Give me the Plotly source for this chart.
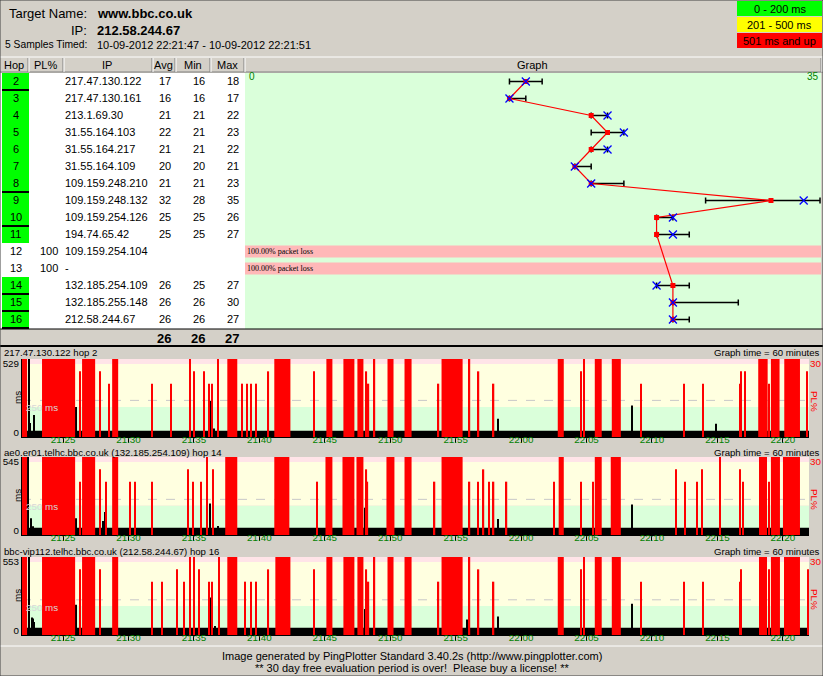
import plotly.graph_objects as go

# ------------------------------------------------------------------ data
target_name = "www.bbc.co.uk"
target_ip = "212.58.244.67"
samples_label = "5 Samples Timed:"
samples_text = "10-09-2012 22:21:47 - 10-09-2012 22:21:51"
legend_labels = ["0 - 200 ms", "201 - 500 ms", "501 ms and up"]
legend_colors = ["#00ff00", "#ffff00", "#ff0000"]

col_headers = ["Hop", "PL%", "IP", "Avg", "Min", "Max", "Graph"]
hops = [2, 3, 4, 5, 6, 7, 8, 9, 10, 11, 12, 13, 14, 15, 16]
pl = [None, None, None, None, None, None, None, None, None, None, 100, 100, None, None, None]
ips = ["217.47.130.122", "217.47.130.161", "213.1.69.30", "31.55.164.103", "31.55.164.217",
       "31.55.164.109", "109.159.248.210", "109.159.248.132", "109.159.254.126", "194.74.65.42",
       "109.159.254.104", "-", "132.185.254.109", "132.185.255.148", "212.58.244.67"]
avg = [17, 16, 21, 22, 21, 20, 21, 32, 25, 25, None, None, 26, 26, 26]
mn = [16, 16, 21, 21, 21, 20, 21, 28, 25, 25, None, None, 25, 26, 26]
mx = [18, 17, 22, 23, 22, 21, 23, 35, 26, 27, None, None, 27, 30, 27]
cur = [17, 16, 22, 23, 22, 20, 21, 34, 26, 26, None, None, 25, 26, 26]
summary = [26, 26, 27]
boundary_hops = [2, 8, 10, 14, 15, 16]
graph_scale_max = 35

# time graphs (time = minutes past 21:00)
tick_vals = [25, 30, 35, 40, 45, 50, 55, 60, 65, 70, 75, 80]
tick_text = ["21:25", "21:30", "21:35", "21:40", "21:45", "21:50", "21:55",
             "22:00", "22:05", "22:10", "22:15", "22:20"]
window_start, window_end = 21.86, 82.0

g_titles = ["217.47.130.122 hop 2",
            "ae0.er01.telhc.bbc.co.uk (132.185.254.109) hop 14",
            "bbc-vip112.telhc.bbc.co.uk (212.58.244.67) hop 16"]
g_max_ms = [529, 545, 553]
g_base_ms = [17, 26, 26]

g1_block_start = [21.86, 23.39, 26.45, 28.75, 37.55, 41.14, 45.12, 46.42, 47.49, 49.79, 51.09, 53.92, 62.80, 65.63, 66.93, 78.12, 79.09, 80.11]
g1_block_end = [22.25, 25.92, 27.45, 29.21, 38.31, 42.37, 45.58, 47.26, 47.95, 50.25, 51.63, 55.53, 63.26, 66.16, 67.62, 78.84, 79.75, 81.31]
g1_line_t = [26.30, 27.83, 28.52, 31.81, 33.26, 34.72, 35.02, 35.79, 36.17, 36.40, 36.86, 38.70, 39.08, 39.38, 39.77, 40.69,
             44.20, 48.18, 48.34, 48.80, 53.69, 56.06, 56.75, 57.90, 64.56, 64.79, 69.15, 72.44, 73.89, 76.72, 76.80, 77.10, 78.94, 81.85]
g1_line_pl = [25, 25, 20, 20, 20, 100, 25, 25, 20, 20, 100, 20, 20, 20, 20, 25,
              25, 25, 20, 100, 20, 100, 25, 20, 25, 100, 20, 20, 20, 20, 25, 25, 20, 25]
g1_spike_t = [22.40, 22.48, 22.78, 25.99, 36.25, 36.55, 58.21, 68.46, 74.88, 78.94]
g1_spike_ms = [600, 77, 138, 200, 245, 35, 110, 210, 70, 153]

g2_block_start = [21.86, 23.39, 26.45, 28.75, 37.39, 41.14, 45.05, 46.35, 47.42, 49.71, 51.09, 53.92, 62.87, 65.63, 66.85, 78.18, 79.09, 80.01]
g2_block_end = [22.25, 25.92, 27.45, 29.21, 38.31, 42.29, 45.58, 47.26, 47.95, 50.32, 51.63, 55.53, 63.26, 66.16, 67.62, 78.79, 79.78, 81.31]
g2_line_t = [26.30, 27.83, 28.29, 30.13, 30.51, 31.81, 34.56, 34.95, 35.56, 36.02, 36.48, 44.43, 48.18, 48.26, 53.39, 56.06,
             56.68, 57.13, 57.52, 57.90, 58.89, 62.49, 64.56, 65.47, 71.83, 72.51, 73.43, 73.81, 75.19, 76.72, 76.95, 78.94]
g2_line_pl = [20, 25, 20, 20, 20, 20, 25, 20, 20, 100, 25, 20, 25, 20, 20, 20,
              20, 25, 20, 20, 20, 20, 20, 20, 25, 20, 20, 25, 100, 25, 20, 20]
g2_spike_t = [22.32, 22.55, 22.70, 25.99, 28.06, 28.21, 36.25, 36.86, 48.11, 58.21, 68.46, 78.94]
g2_spike_ms = [600, 100, 37, 100, 78, 150, 217, 40, 184, 94, 209, 209]

g3_block_start = [21.86, 23.39, 26.45, 28.75, 37.55, 41.22, 45.12, 46.42, 47.49, 49.79, 51.09, 53.92, 62.80, 65.63, 66.93, 78.18, 79.09, 80.09]
g3_block_end = [22.25, 25.92, 27.45, 29.21, 38.31, 42.37, 45.58, 47.26, 47.95, 50.25, 51.63, 55.53, 63.26, 66.16, 67.62, 78.79, 79.78, 81.31]
g3_line_t = [26.30, 27.83, 31.81, 32.57, 33.72, 34.26, 34.72, 35.02, 35.41, 36.17, 36.40, 36.94, 38.93, 39.38, 39.77, 40.69,
             44.20, 48.18, 48.34, 48.80, 53.69, 56.06, 56.75, 57.90, 64.56, 64.79, 69.15, 72.44, 73.89, 76.72, 76.80, 78.94, 81.92]
g3_line_pl = [25, 25, 20, 20, 25, 20, 100, 100, 25, 20, 20, 100, 20, 20, 20, 25,
              25, 25, 20, 100, 20, 100, 25, 20, 25, 100, 20, 20, 20, 20, 25, 25, 25]
g3_spike_t = [22.40, 22.63, 22.70, 22.78, 25.99, 36.25, 36.63, 48.11, 55.91, 58.21, 68.46, 78.94]
g3_spike_ms = [600, 109, 100, 72, 210, 269, 40, 176, 92, 117, 218, 30]

footer1 = "Image generated by PingPlotter Standard 3.40.2s (http://www.pingplotter.com)"
footer2 = "** 30 day free evaluation period is over!  Please buy a license! **"

# ------------------------------------------------------------------ layout helpers
W, H = 823, 676
def px(x): return x / W
def py(y): return 1 - y / H

FONT = "Liberation Sans"
BG = "#d4d0c8"
GREEN_BG = "#daffda"
YELLOW_BG = "#ffffe0"
PINK_BG = "#ffe4e8"
TICK_GREEN = "#008000"
SMALL = 9.3

shapes, anns = [], []

def rect(x0, y0, x1, y1, fill, layer="below", yref="paper"):
    if yref == "paper":
        y0, y1 = py(y1), py(y0)
    shapes.append(dict(type="rect", xref="paper", yref=yref, x0=px(x0), x1=px(x1), y0=y0, y1=y1,
                       fillcolor=fill, line=dict(width=0), layer=layer))

def hline(x0, x1, y, color, w=1, layer="above", yref="paper"):
    yy = py(y) if yref == "paper" else y
    shapes.append(dict(type="line", xref="paper", yref=yref, x0=px(x0), x1=px(x1), y0=yy, y1=yy,
                       line=dict(color=color, width=w), layer=layer))

def vline(x, y0, y1, color, w=1, layer="above"):
    shapes.append(dict(type="line", xref="paper", yref="paper", x0=px(x), x1=px(x), y0=py(y0), y1=py(y1),
                       line=dict(color=color, width=w), layer=layer))

def text(x, y, s, size=11, color="black", anchor="left", yref="paper", angle=0, family=FONT, xref="paper"):
    anns.append(dict(xref=xref, yref=yref, x=px(x) if xref == "paper" else x,
                     y=py(y) if yref == "paper" else y, text=s, showarrow=False,
                     xanchor=anchor, yanchor="middle", textangle=angle,
                     font=dict(size=size, color=color, family=family), borderpad=0))

fig = go.Figure()

# ------------------------------------------------------------------ header
text(88, 13, "Target Name:", 13, anchor="right")
text(96, 13, f"<b>{target_name}</b>", 13)
text(88, 30, "IP:", 13, anchor="right")
text(96, 30, f"<b>{target_ip}</b>", 13)
text(88, 45, samples_label, 10.3, anchor="right")
text(96, 45, samples_text, 11)
for i, (lab, col) in enumerate(zip(legend_labels, legend_colors)):
    top = 1 + i * 16
    rect(737, top, 822, top + 15, col)
    text(779.5, top + 8, lab, 11, anchor="center")

# ------------------------------------------------------------------ table header
rect(0, 57, 823, 72, BG)
hline(0, 823, 57, "#ffffff")
hline(0, 823, 72, "#808080")
col_bounds = [0, 28, 63, 152, 175, 210, 244, 821]
for b in col_bounds[1:]:
    vline(b, 58, 72, "#808080")
    vline(b + 1, 58, 72, "#ffffff")
for lab, a, b in zip(col_headers, col_bounds[:-1], col_bounds[1:]):
    text((a + b) / 2, 65, lab, 11, anchor="center")

# ------------------------------------------------------------------ table body & hop graph
rect(0, 73, 245, 329, "#ffffff")
rect(245, 73, 821, 329, GREEN_BG)
for h, p, ip, a, lo, hi in zip(hops, pl, ips, avg, mn, mx):
    if a is not None:
        rect(2, h - 0.5, 29, h + 0.5, "#00ff00", yref="y")
    else:
        shapes.append(dict(type="rect", xref="paper", yref="y", x0=px(245), x1=px(821),
                           y0=h - 0.35, y1=h + 0.35, fillcolor="#ffb8b8", line=dict(width=0), layer="below"))
        text(246, h, f"{p:.2f}% packet loss", 8, yref="y", family="Liberation Serif")
    text(15.5, h, str(h), 11, anchor="center", yref="y")
    if p is not None:
        text(59, h, str(p), 11, anchor="right", yref="y")
    text(64, h, ip, 11, yref="y")
    if a is not None:
        text(172, h, str(a), 11, anchor="right", yref="y")
        text(206, h, str(lo), 11, anchor="right", yref="y")
        text(240, h, str(hi), 11, anchor="right", yref="y")
for h in boundary_hops:
    hline(2, 29, h + 0.5, "black", 2, yref="y")
hline(0, 823, 329, "black", 1)
rect(0, 330, 823, 345, BG)
for v, x in zip(summary, [172, 206, 240]):
    text(x, 338, f"<b>{v}</b>", 13, anchor="right")
hline(0, 823, 346, "black", 2)

valid = [i for i, a in enumerate(avg) if a is not None]
fig.add_trace(go.Scatter(
    x=[avg[i] for i in valid], y=[hops[i] for i in valid], mode="markers",
    marker=dict(size=1, opacity=0),
    error_x=dict(type="data", symmetric=False, array=[mx[i] - avg[i] for i in valid],
                 arrayminus=[avg[i] - mn[i] for i in valid], color="black", thickness=1.5, width=3),
    xaxis="x", yaxis="y", hoverinfo="skip", showlegend=False))
fig.add_trace(go.Scatter(
    x=avg, y=hops, mode="lines+markers", connectgaps=True,
    line=dict(color="#ff0000", width=1.2),
    marker=dict(symbol="square", size=5, color="#ff0000"),
    xaxis="x", yaxis="y", showlegend=False))
fig.add_trace(go.Scatter(
    x=cur, y=hops, mode="markers",
    marker=dict(symbol="x-thin", size=8, line=dict(width=1.3, color="#0000ff")),
    xaxis="x", yaxis="y", showlegend=False))
text(0, 77, "0", 10, color=TICK_GREEN, anchor="left", xref="x")
anns[-1]["x"] = 0
text(0, 77, str(graph_scale_max), 10, color=TICK_GREEN, anchor="right", xref="x")
anns[-1]["x"] = graph_scale_max

layout_axes = dict(
    xaxis=dict(domain=[px(245), px(821)], range=[-0.18, 35.06], visible=False, fixedrange=True),
    yaxis=dict(domain=[py(329), py(73)], range=[16.5588, 1.5], visible=False, fixedrange=True),
)

# ------------------------------------------------------------------ time graphs
G_TOP = [359, 457, 557]
G_BOT = [437, 535, 635]
G_TITLE_Y = [352, 452, 551]
X0, X1 = 22, 809
blocks_s = [g1_block_start, g2_block_start, g3_block_start]
blocks_e = [g1_block_end, g2_block_end, g3_block_end]
lines_t = [g1_line_t, g2_line_t, g3_line_t]
lines_pl = [g1_line_pl, g2_line_pl, g3_line_pl]
spikes_t = [g1_spike_t, g2_spike_t, g3_spike_t]
spikes_ms = [g1_spike_ms, g2_spike_ms, g3_spike_ms]

for k in range(3):
    top, bot = G_TOP[k], G_BOT[k]
    hpx = bot - top
    mxv = g_max_ms[k]
    per_px = mxv / (hpx - 9)
    ymin, ymax = -4 * per_px, mxv + 5 * per_px
    plmin = -30 * 4 / (hpx - 4)
    xa, ya, ya2 = f"x{k + 2}", f"y{2 * k + 2}", f"y{2 * k + 3}"
    xkey, ykey, y2key = f"xaxis{k + 2}", f"yaxis{2 * k + 2}", f"yaxis{2 * k + 3}"
    layout_axes[xkey] = dict(domain=[px(X0), px(X1)], range=[window_start, 82.0], anchor=ya,
                             tickvals=tick_vals, ticktext=tick_text,
                             tickfont=dict(color=TICK_GREEN, size=SMALL + 0.5, family=FONT),
                             ticks="outside", ticklen=5, tickcolor="black", ticklabelstandoff=-12,
                             showline=True, linecolor="black", linewidth=1,
                             showgrid=False, zeroline=False, fixedrange=True, automargin=False)
    layout_axes[ykey] = dict(domain=[py(bot), py(top)], range=[ymin, ymax], anchor=xa,
                             tickvals=[0, mxv], ticktext=["0", str(mxv)], ticks="",
                             tickfont=dict(size=SMALL + 0.5, family=FONT, color="black"),
                             showline=True, linecolor="black", linewidth=1,
                             showgrid=False, zeroline=False, fixedrange=True, automargin=False)
    layout_axes[y2key] = dict(overlaying=ya, side="right", anchor=xa, range=[plmin, 30],
                              tickvals=[30], ticktext=["30"], ticks="", ticklabelshift=5,
                              tickfont=dict(size=SMALL + 0.5, family=FONT, color="#ff0000"),
                              showgrid=False, zeroline=False, showline=False, fixedrange=True,
                              automargin=False)
    # background bands
    for y0, y1, c in [(ymin, 200, GREEN_BG), (200, mxv, YELLOW_BG), (mxv, ymax, PINK_BG)]:
        shapes.append(dict(type="rect", xref=f"{xa} domain", yref=ya, x0=0, x1=1, y0=y0, y1=y1,
                           fillcolor=c, line=dict(width=0), layer="below"))
    shapes.append(dict(type="line", xref=f"{xa} domain", yref=ya, x0=0, x1=1, y0=250, y1=250,
                       line=dict(color="#c8c8c8", width=1, dash="dash"), layer="below"))
    anns.append(dict(xref="paper", yref=ya, x=px(24), y=250, yanchor="top", xanchor="left",
                     text="250 ms", showarrow=False, borderpad=1,
                     font=dict(size=SMALL + 0.5, family=FONT, color="#d8d8d8")))
    # latency bars
    fig.add_trace(go.Bar(x=[(window_start + window_end) / 2] + spikes_t[k],
                         width=[window_end - window_start] + [0.09] * len(spikes_t[k]),
                         y=[g_base_ms[k] - ymin] + [v - ymin for v in spikes_ms[k]], base=ymin,
                         marker=dict(color="black", line=dict(width=0)),
                         xaxis=xa, yaxis=ya, showlegend=False, hoverinfo="skip"))
    # packet-loss bars
    bx = [(s + e) / 2 for s, e in zip(blocks_s[k], blocks_e[k])] + lines_t[k]
    bw = [e - s for s, e in zip(blocks_s[k], blocks_e[k])] + [0.1] * len(lines_t[k])
    bv = [100] * len(blocks_s[k]) + lines_pl[k]
    fig.add_trace(go.Bar(x=bx, width=bw, y=[min(v, 40) - plmin for v in bv], base=plmin,
                         marker=dict(color="#ff0000", line=dict(width=0)),
                         xaxis=xa, yaxis=ya2, showlegend=False, hoverinfo="skip"))
    # labels
    text(3, G_TITLE_Y[k], g_titles[k], SMALL + 0.3)
    text(821, G_TITLE_Y[k], "Graph time = 60 minutes", SMALL + 0.3, anchor="right")
    text(17, (top + bot) / 2, "ms", SMALL + 0.5, anchor="center", angle=-90)
    text(815, (top + bot) / 2 + 3, "PL%", SMALL + 0.5, color="#ff0000", anchor="center", angle=90)

# ------------------------------------------------------------------ footer
hline(0, 823, 646, "#ffffff", 1)
text(411.5, 656, footer1, 11, anchor="center")
text(411.5, 668, footer2, 11, anchor="center")
shapes.append(dict(type="rect", xref="paper", yref="paper", x0=0, x1=1, y0=0, y1=1,
                   line=dict(color="#404040", width=1), fillcolor="rgba(0,0,0,0)", layer="above"))

fig.update_layout(width=W, height=H, margin=dict(l=0, r=0, t=0, b=0, pad=0, autoexpand=False),
                  paper_bgcolor=BG, plot_bgcolor="rgba(0,0,0,0)", barmode="overlay",
                  font=dict(family=FONT, size=11, color="black"),
                  shapes=shapes, annotations=anns, showlegend=False, **layout_axes)
fig.write_html("out.html", config={"displayModeBar": False})
